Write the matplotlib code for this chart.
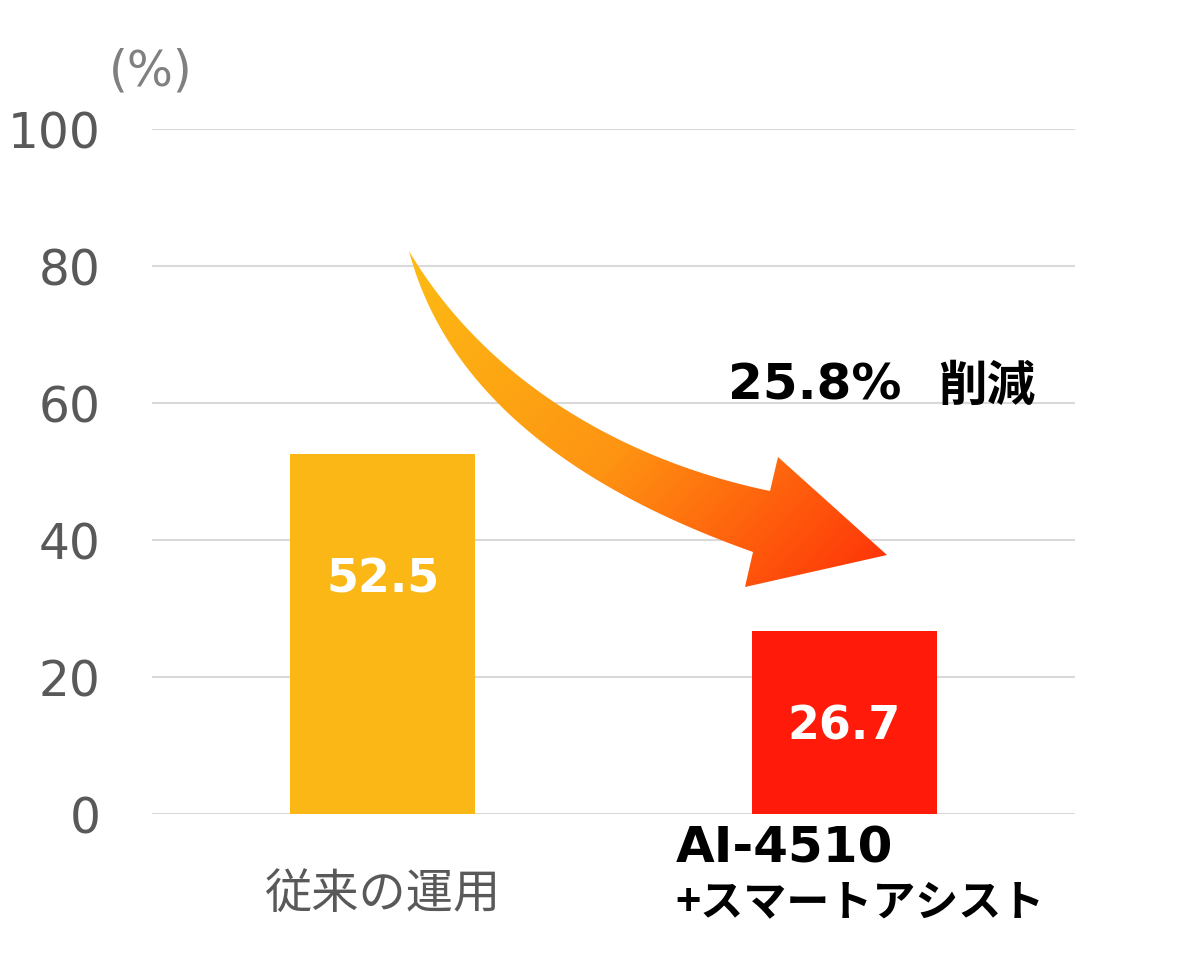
import numpy as np
import matplotlib
matplotlib.use("Agg")
import matplotlib.pyplot as plt
from matplotlib.path import Path
from matplotlib.patches import PathPatch
from matplotlib.colors import LinearSegmentedColormap

plt.rcParams['font.family'] = ['Noto Sans CJK JP', 'DejaVu Sans']
LATIN = ['DejaVu Sans', 'Noto Sans CJK JP']

# data
categories = ["従来の運用", "AI-4510\n+スマートアシスト"]
values = [52.5, 26.7]
bar_colors = ["#FBB716", "#FF1A0A"]
yticks = [0, 20, 40, 60, 80, 100]
note_value = "25.8%"
note_word = "削減"
label_y = [34.3, 12.8]

fig = plt.figure(figsize=(11.84, 9.54), dpi=100)
ax = fig.add_axes([152 / 1184, 1 - 815 / 954, 923 / 1184, 685 / 954])

x = np.arange(len(categories))
ax.bar(x, values, width=0.4, color=bar_colors, zorder=2)
for xi, v, ly in zip(x, values, label_y):
    ax.text(xi, ly, f"{v:.1f}", ha="center", va="center", family=LATIN,
            color="white", fontsize=33, fontweight="bold", zorder=3)

ax.set_xlim(-0.5, 1.5)
ax.set_ylim(0, 100)
ax.set_yticks(yticks)
ax.yaxis.grid(True, color="#D9D9D9", linewidth=1.5, zorder=0)
ax.set_axisbelow(True)
for s in ax.spines.values():
    s.set_visible(False)
ax.tick_params(axis="y", length=0, pad=37, labelsize=35, labelcolor="#595959")
ax.tick_params(axis="x", length=0, labelbottom=False)
for lab in ax.get_yticklabels():
    lab.set_fontfamily(LATIN)

# category labels
xt = ax.get_xaxis_transform()
ax.text(0, -0.117, categories[0], transform=xt, ha="center", va="center",
        fontsize=34, color="#595959")
line1, line2 = categories[1].split("\n")
ax.text(1 - 0.366, (815 - 849) / 685, line1, transform=xt, ha="left", va="center",
        fontsize=36, fontweight="bold", color="black", family=LATIN)
ax.text(1 - 0.366, (815 - 902) / 685, line2, transform=xt, ha="left", va="center",
        fontsize=31, fontweight="bold", color="black")

# unit label
fig.text(151 / 1184, 1 - 72 / 954, "(%)", ha="center", va="center",
         fontsize=35, color="#808080", family=LATIN)

# note
ax.text((728 - 152) / 923, (815 - 386) / 685, note_value, transform=ax.transAxes,
        ha="left", va="center", fontsize=36, fontweight="bold", color="black",
        family=LATIN)
ax.text((938 - 152) / 923, (815 - 386) / 685, note_word, transform=ax.transAxes,
        ha="left", va="center", fontsize=35, fontweight="bold", color="black")


# curved arrow with gradient (pixel outline -> axes fraction)
def px(p):
    return ((p[0] - 152) / 923, (815 - p[1]) / 685)


def bezier_fit(pts, n=60):
    # least-squares cubic bezier with fixed end points
    pts = np.asarray(pts, float)
    d = np.r_[0, np.cumsum(np.hypot(*np.diff(pts, axis=0).T))]
    t = d / d[-1]
    b0, b1, b2, b3 = (1 - t) ** 3, 3 * (1 - t) ** 2 * t, 3 * (1 - t) * t ** 2, t ** 3
    rhs = pts - np.outer(b0, pts[0]) - np.outer(b3, pts[-1])
    A = np.column_stack([b1, b2])
    ctrl, *_ = np.linalg.lstsq(A, rhs, rcond=None)
    s = np.linspace(0, 1, n)
    c = [pts[0], ctrl[0], ctrl[1], pts[-1]]
    curve = (np.outer((1 - s) ** 3, c[0]) + np.outer(3 * (1 - s) ** 2 * s, c[1])
             + np.outer(3 * (1 - s) * s ** 2, c[2]) + np.outer(s ** 3, c[3]))
    return [tuple(p) for p in curve]


inner = [(409, 252), (425, 273), (477, 340), (553, 403), (600, 432),
         (667, 460), (770, 492)]
head = [(778, 458), (887, 556), (745, 588)]
outer = [(753, 553), (667, 517), (600, 482), (557, 457), (498, 403),
         (447, 340), (409, 252)]
outline = bezier_fit(inner) + head + bezier_fit(outer)
verts = [px(p) for p in outline]
codes = [Path.MOVETO] + [Path.LINETO] * (len(verts) - 1)
patch = PathPatch(Path(verts, codes), transform=ax.transAxes, facecolor="none",
                  edgecolor="none")
ax.add_patch(patch)

cmap = LinearSegmentedColormap.from_list("arr", ["#FDBC14", "#FE9412", "#FF2E08"])
gx, gy = np.meshgrid(np.linspace(0, 1, 300), np.linspace(0, 1, 300))
grad = gx * 0.6 + gy * 0.4
x0, y0 = px((405, 250))
x1, y1 = px((890, 590))
im = ax.imshow(grad, cmap=cmap, extent=[x0, x1, y1, y0], origin="upper",
               transform=ax.transAxes, aspect="auto", zorder=4,
               interpolation="bilinear")
im.set_clip_path(patch)

ax.set_xlim(-0.5, 1.5)
ax.set_ylim(0, 100)

fig.savefig("out.png", dpi=100)
